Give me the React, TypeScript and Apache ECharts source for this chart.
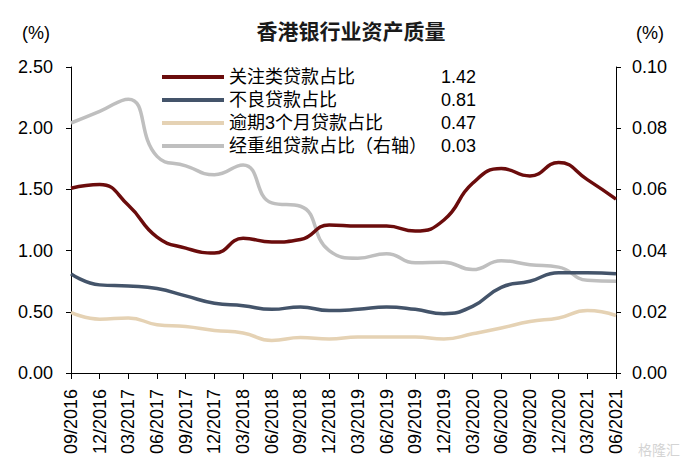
import React, { useEffect, useRef } from "react";
import * as echarts from "echarts";

const categories = [
  "09/2016", "12/2016", "03/2017", "06/2017", "09/2017", "12/2017",
  "03/2018", "06/2018", "09/2018", "12/2018", "03/2019", "06/2019",
  "09/2019", "12/2019", "03/2020", "06/2020", "09/2020", "12/2020",
  "03/2021", "06/2021",
];
const seriesNames = ["关注类贷款占比", "不良贷款占比", "逾期3个月贷款占比", "经重组贷款占比（右轴）"];
const latestValues = ["1.42", "0.81", "0.47", "0.03"];
const specialMention = [1.51, 1.54, 1.37, 1.11, 1.02, 0.98, 1.1, 1.07, 1.09, 1.21, 1.2, 1.2, 1.16, 1.25, 1.55, 1.67, 1.61, 1.72, 1.58, 1.42];
const nonPerforming = [0.81, 0.72, 0.71, 0.69, 0.63, 0.57, 0.55, 0.52, 0.54, 0.51, 0.52, 0.54, 0.52, 0.485, 0.545, 0.7, 0.75, 0.82, 0.82, 0.81];
const overdue3m = [0.495, 0.44, 0.45, 0.395, 0.38, 0.348, 0.327, 0.266, 0.29, 0.278, 0.294, 0.294, 0.294, 0.278, 0.32, 0.367, 0.42, 0.45, 0.51, 0.47];
const restructured = [0.0817, 0.0855, 0.0895, 0.0708, 0.0677, 0.0648, 0.068, 0.0556, 0.0545, 0.04, 0.0375, 0.039, 0.036, 0.0362, 0.0338, 0.0367, 0.0354, 0.0346, 0.0303, 0.03];
const leftTicks = { min: 0, max: 2.5, interval: 0.5 };
const rightTicks = { min: 0, max: 0.1, interval: 0.02 };

const colors = ["#6B0C0C", "#44546A", "#E5D2B4", "#BFBFBF"];
const FONT = "'Liberation Sans', Arial, 'Noto Sans CJK SC', sans-serif";

export default function App() {
  const ref = useRef<HTMLDivElement>(null);
  useEffect(() => {
    if (!ref.current) return;
    const chart = echarts.init(ref.current, null, { renderer: "svg" });
    const dataSets = [specialMention, nonPerforming, overdue3m, restructured];
    chart.setOption({
      animation: false,
      textStyle: { fontFamily: FONT },
      title: {
        text: "香港银行业资产质量",
        left: 346,
        textAlign: "center",
        top: 14,
        textStyle: { fontSize: 21, fontWeight: "bold", color: "#1a1a1a", fontFamily: "'Noto Sans CJK SC', sans-serif" },
      },
      graphic: [
        { type: "text", left: 22, top: 24, style: { text: "(%)", fontSize: 18, fill: "#000", fontFamily: FONT } },
        { type: "text", left: 636, top: 24, style: { text: "(%)", fontSize: 18, fill: "#000", fontFamily: FONT } },
        { type: "text", left: 638, top: 442, style: { text: "格隆汇", fontSize: 14, fill: "#d4d4d4", fontFamily: "'Noto Sans CJK SC', sans-serif" } },
      ],
      legend: {
        orient: "vertical",
        left: 157,
        top: 63,
        itemWidth: 62,
        itemHeight: 4,
        itemGap: 5,
        icon: "rect",
        data: seriesNames,
        formatter: (name: string) => {
          const i = seriesNames.indexOf(name);
          return `{n|${name}}{v|${latestValues[i]}}`;
        },
        textStyle: {
          fontSize: 18,
          color: "#000",
          rich: {
            n: { width: 212, fontSize: 18, lineHeight: 18, fontFamily: FONT },
            v: { fontSize: 18, lineHeight: 18, fontFamily: FONT },
          },
        },
      },
      grid: { left: 71, right: 69, top: 67, bottom: 94 },
      xAxis: {
        type: "category",
        data: categories,
        boundaryGap: false,
        axisLine: { lineStyle: { color: "#000", width: 1 } },
        axisTick: { alignWithLabel: true, length: 6, lineStyle: { color: "#000" } },
        axisLabel: { rotate: 90, interval: 0, fontSize: 18, color: "#000", margin: 16, fontFamily: FONT },
        splitLine: { show: false },
      },
      yAxis: [
        {
          type: "value",
          ...leftTicks,
          axisLine: { show: true, lineStyle: { color: "#000" } },
          axisTick: { show: true, length: 5, lineStyle: { color: "#000" } },
          axisLabel: { fontSize: 18, color: "#000", margin: 18, formatter: (v: number) => v.toFixed(2), fontFamily: FONT },
          splitLine: { show: false },
        },
        {
          type: "value",
          position: "right",
          ...rightTicks,
          axisLine: { show: true, lineStyle: { color: "#000" } },
          axisTick: { show: true, length: 5, lineStyle: { color: "#000" } },
          axisLabel: { fontSize: 18, color: "#000", margin: 16, formatter: (v: number) => v.toFixed(2), fontFamily: FONT },
          splitLine: { show: false },
        },
      ],
      series: seriesNames.map((name, i) => ({
        name,
        type: "line",
        yAxisIndex: i === 3 ? 1 : 0,
        data: dataSets[i],
        smooth: 0.5,
        showSymbol: false,
        symbol: "none",
        color: colors[i],
        lineStyle: { color: colors[i], width: 3.5 },
        z: i === 3 ? 1 : 2 + i,
      })),
    });
    return () => chart.dispose();
  }, []);
  return <div ref={ref} style={{ position: "absolute", left: 0, top: 0, width: 685, height: 467 }} />;
}
